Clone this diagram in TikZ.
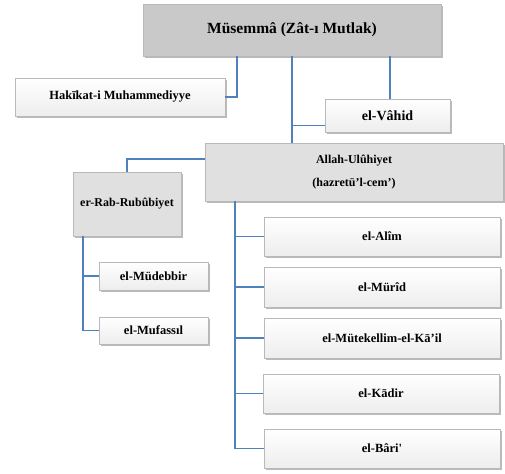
\documentclass[tikz,border=0pt]{standalone}
\usepackage{fontspec}
\setmainfont{Liberation Serif}
\usetikzlibrary{shadows}
\definecolor{lineblue}{HTML}{4F81BD}
\definecolor{darkbox}{HTML}{C9C9C9}
\definecolor{lightbox}{HTML}{E0E0E0}
\begin{document}
\begin{tikzpicture}[x=1pt,y=-1pt,
  base/.style={draw=gray!55, line width=0.5pt, rectangle, inner sep=0pt, align=center,
    font=\bfseries\fontsize{12.5}{14}\selectfont,
    drop shadow={shadow xshift=1.5pt, shadow yshift=-2pt, opacity=0.45, fill=black!60}},
  whitebox/.style={base, top color=white, bottom color=gray!14},
  darkfill/.style={base, fill=darkbox},
  lightfill/.style={base, fill=lightbox},
  conn/.style={draw=lineblue, line width=1.1pt},
]
\useasboundingbox[fill=white] (0,0) rectangle (505,473);

\node[darkfill, minimum width=298pt, minimum height=52pt, font=\bfseries\fontsize{15.5}{18}\selectfont] (mus) at (292,30) {Müsemmâ (Zât-ı Mutlak)};
\node[whitebox, minimum width=210pt, minimum height=38pt, font=\bfseries\fontsize{12.5}{14}\selectfont] (hak) at (120,97) {Hakīkat-i Muhammediyye};
\node[whitebox, minimum width=125pt, minimum height=33pt, font=\bfseries\fontsize{14}{16}\selectfont] (vah) at (387.5,115.5) {el-Vâhid};
\node[lightfill, minimum width=298pt, minimum height=58pt, font=\bfseries\fontsize{12}{23}\selectfont] (all) at (354,172) {Allah-Ulûhiyet\\(hazretü’l-cem’)};
\node[lightfill, minimum width=108pt, minimum height=64pt, font=\bfseries\fontsize{12}{14}\selectfont] (rab) at (127,204) {er-Rab-Rubûbiyet};
\node[whitebox, minimum width=109pt, minimum height=28pt] (mud) at (153.5,276) {el-Müdebbir};
\node[whitebox, minimum width=109pt, minimum height=27pt] (muf) at (153.5,330.5) {el-Mufassıl};
\node[whitebox, minimum width=236pt, minimum height=39pt] (alim) at (382,236.5) {el-Alîm};
\node[whitebox, minimum width=236pt, minimum height=40pt] (murid) at (382,287) {el-Mürîd};
\node[whitebox, minimum width=236pt, minimum height=40pt] (mut) at (382,338) {el-Mütekellim-el-Kā’il};
\node[whitebox, minimum width=236pt, minimum height=39pt] (kad) at (381,393.5) {el-Kādir};
\node[whitebox, minimum width=236pt, minimum height=39pt] (bari) at (382,448.5) {el-Bâri\textquotesingle};

% top connectors
\draw[conn] ([xshift=-55pt]mus.south) |- (hak.east);
\draw[conn] (mus.south -| 390,0) -- (390,0 |- vah.north);
\draw[conn] (mus.south) -- (mus.south |- all.north);
\coordinate (vahin) at ([yshift=-10pt]vah.west);
\draw[conn] (mus.south |- vahin) -- (vahin);
% Allah to Rab
\draw[conn] ([yshift=13pt]all.west) -| (rab.north);
% Rab children
\coordinate (rabdown) at ([xshift=-44pt]rab.south);
\draw[conn] (rabdown) |- (muf.west);
\draw[conn] (rabdown |- mud.west) -- (mud.west);
% Allah children
\coordinate (alldown) at ([xshift=-119pt]all.south);
\draw[conn] (alldown) |- (bari.west);
\draw[conn] (alldown |- alim.west) -- (alim.west);
\draw[conn] (alldown |- murid.west) -- (murid.west);
\draw[conn] (alldown |- mut.west) -- (mut.west);
\draw[conn] (alldown |- kad.west) -- (kad.west);
\end{tikzpicture}
\end{document}
